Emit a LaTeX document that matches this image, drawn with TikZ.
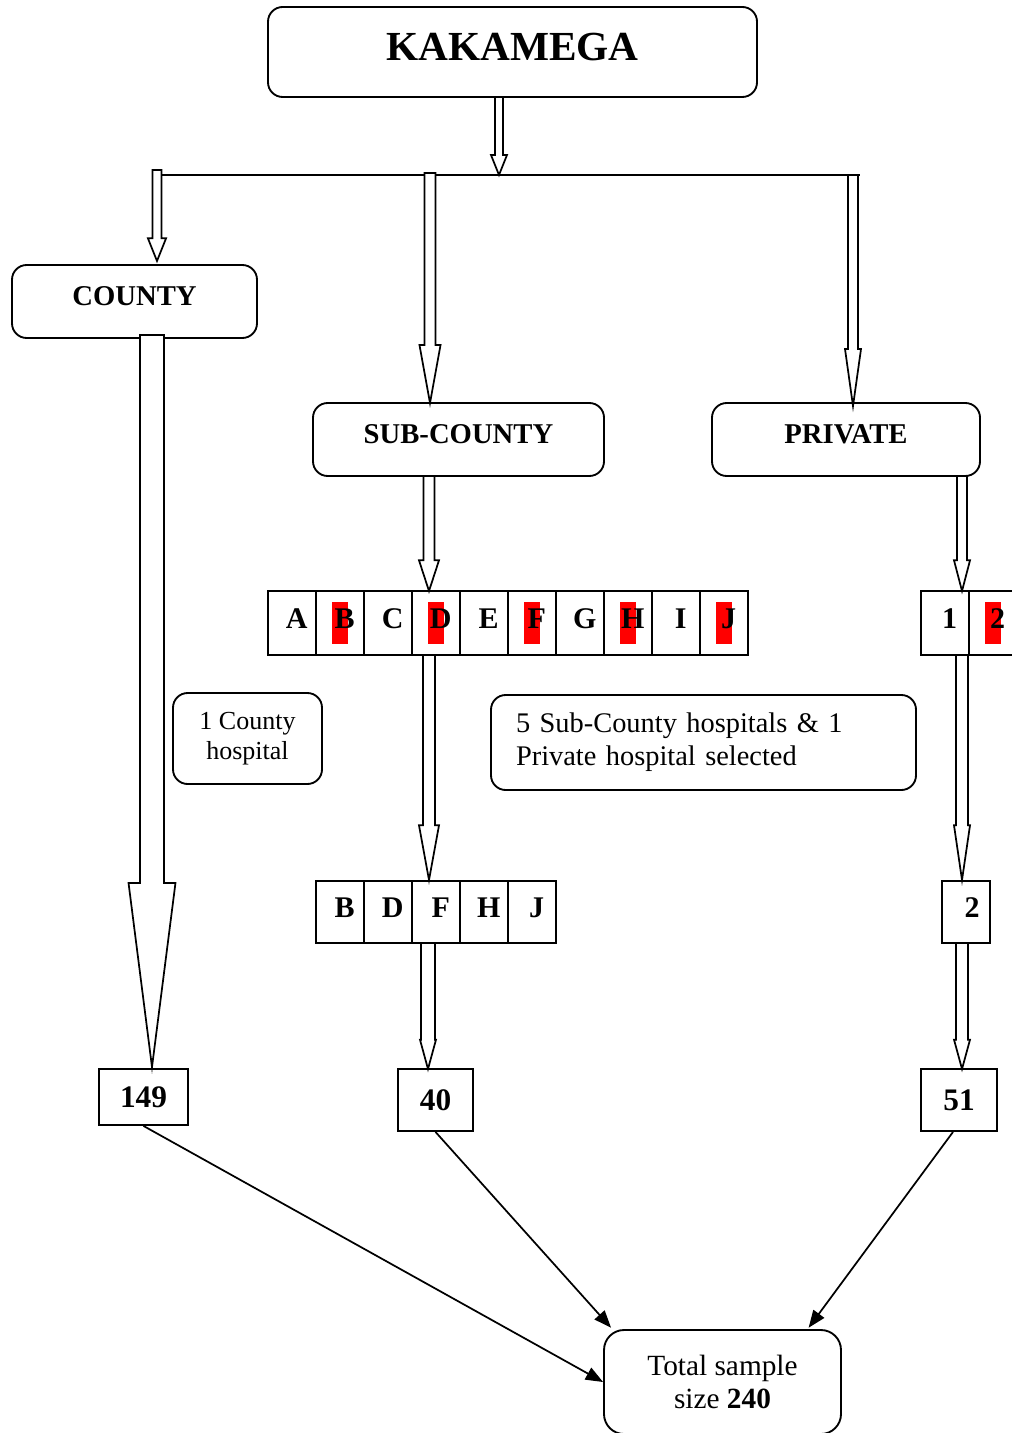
\documentclass[tikz,border=0pt]{standalone}
\usepackage{fontspec}
\setmainfont{Liberation Serif}
\usetikzlibrary{calc,arrows.meta}
\tikzset{
  rbox/.style={draw, line width=1.4pt, rounded corners=11pt, inner sep=2pt, align=center},
  sbox/.style={draw, line width=1.4pt, inner sep=0pt, align=center},
  cell/.style={sbox, minimum width=36pt, minimum height=48pt, text depth=6pt,
    font=\fontsize{22.5}{26}\selectfont\bfseries, execute at begin node={\kern7pt}},
  scell/.style={sbox, minimum width=36pt, minimum height=46.5pt, text depth=6pt,
    font=\fontsize{22.5}{26}\selectfont\bfseries, execute at begin node={\kern7pt}},
  sel/.style={path picture={\fill[red] ([xshift=-6pt,yshift=-15.75pt]path picture bounding box.center) rectangle ([xshift=6pt,yshift=15.75pt]path picture bounding box.center);}},
  numbox/.style={sbox, font=\fontsize{23.5}{27}\selectfont\bfseries},
  barrow/.style n args={3}{draw, fill=white, line width=1.3pt, line join=miter,
    to path={let \p1=(\tikztostart), \p2=(\tikztotarget) in
      (\x1-#1,\y1) -- (\x1-#1,\y2+#3) -- (\x1-#2,\y2+#3) -- (\x1,\y2) -- (\x1+#2,\y2+#3) -- (\x1+#1,\y2+#3) -- (\x1+#1,\y1) -- cycle}},
  link/.style={line width=1.3pt, -{Triangle[length=13pt,width=10pt]}},
}
\begin{document}
\begin{tikzpicture}[x=0.75pt,y=-0.75pt]
\useasboundingbox (0,0) rectangle (1012,1433);

% main boxes
\node[rbox, minimum width=366.75pt, minimum height=67.5pt, text depth=8pt,
  font=\fontsize{31}{36}\selectfont\bfseries] (kak) at (512.5,52) {KAKAMEGA};
\node[rbox, minimum width=183.75pt, minimum height=54.75pt, text depth=8pt,
  font=\fontsize{21.5}{26}\selectfont\bfseries] (county) at (134.5,301.5) {COUNTY};
\node[rbox, minimum width=218.25pt, minimum height=54.75pt, text depth=7.5pt,
  font=\fontsize{21.5}{26}\selectfont\bfseries] (sub) at (458.5,439.5) {SUB-COUNTY};
\node[rbox, minimum width=201pt, minimum height=54.75pt, text depth=7.5pt,
  font=\fontsize{21.5}{26}\selectfont\bfseries] (priv) at (846,439.5) {PRIVATE};

% notes
\node[rbox, minimum width=111.75pt, minimum height=68.25pt,
  font=\fontsize{19.5}{22.5}\selectfont] (note1) at (247.5,738.5) {1 County\\hospital};
\node[rbox, minimum width=318.75pt, minimum height=71.25pt, inner xsep=18.75pt,
  text width=281.25pt, align=left,
  font=\fontsize{21.3}{24.75}\selectfont] (note2) at (703.5,742.5) {5 Sub-County hospitals \& 1\\Private hospital selected};

% sub-county row
\node[cell] (rA) at (292,623) {A};
\node[cell,sel] (rB) at (340,623) {B};
\node[cell] (rC) at (388,623) {C};
\node[cell,sel] (rD) at (436,623) {D};
\node[cell] (rE) at (484,623) {E};
\node[cell,sel] (rF) at (532,623) {F};
\node[cell] (rG) at (580,623) {G};
\node[cell,sel] (rH) at (628,623) {H};
\node[cell] (rI) at (676,623) {I};
\node[cell,sel] (rJ) at (724,623) {J};

% private row
\node[cell] (p1) at (945,623) {1};
\node[cell,sel] (p2) at (993,623) {2};

% selected row
\node[scell] (sB) at (340,912) {B};
\node[scell] (sD) at (388,912) {D};
\node[scell] (sF) at (436,912) {F};
\node[scell] (sH) at (484,912) {H};
\node[scell] (sJ) at (532,912) {J};
\node[scell, execute at begin node={\kern2pt}] (q2) at (966,912) {2};

% totals
\node[numbox, minimum width=66.75pt, minimum height=42pt] (n149) at (143.5,1097) {149};
\node[numbox, minimum width=56.25pt, minimum height=46.5pt] (n40) at (435.5,1100) {40};
\node[numbox, minimum width=57pt, minimum height=46.5pt] (n51) at (959,1100) {51};
\node[rbox, rounded corners=15pt, minimum width=177.75pt, minimum height=78pt,
  font=\fontsize{22}{25}\selectfont] (total) at (722.5,1382) {Total sample\\size \textbf{240}};

% branching line
\coordinate (hL) at (157,175);
\coordinate (hR) at (860,175);
\draw[line width=1.3pt] (hL) -- (hR);

% block arrows
\coordinate (a1s) at (499,97);   \coordinate (a1t) at (499,175);
\coordinate (a2s) at (157,170);  \coordinate (a2t) at (157,261);
\coordinate (a3s) at (430,173);  \coordinate (a3t) at (430,403);
\coordinate (a4s) at (853,175);  \coordinate (a4t) at (853,406);
\coordinate (a5s) at (152,335);  \coordinate (a5t) at (152,1067);
\coordinate (a6s) at (429,476);  \coordinate (a6t) at (429,591);
\coordinate (a7s) at (962,476);  \coordinate (a7t) at (962,591);
\coordinate (a8s) at (429,655);  \coordinate (a8t) at (429,880);
\coordinate (a9s) at (962,655);  \coordinate (a9t) at (962,880);
\coordinate (a10s) at (428,943); \coordinate (a10t) at (428,1069);
\coordinate (a11s) at (962,943); \coordinate (a11t) at (962,1069);

\draw[barrow={3pt}{6pt}{15pt}] (a1s) to (a1t);
\draw[barrow={3.4pt}{6.8pt}{17pt}] (a2s) to (a2t);
\draw[barrow={4.1pt}{7.9pt}{43.5pt}] (a3s) to (a3t);
\draw[barrow={3.75pt}{6pt}{42.75pt}] (a4s) to (a4t);
\draw[barrow={9pt}{17.6pt}{138pt}] (a5s) to (a5t);
\draw[barrow={4.1pt}{7.5pt}{23pt}] (a6s) to (a6t);
\draw[barrow={3.75pt}{6pt}{23pt}] (a7s) to (a7t);
\draw[barrow={4.5pt}{7.5pt}{41pt}] (a8s) to (a8t);
\draw[barrow={4.5pt}{6pt}{41pt}] (a9s) to (a9t);
\draw[barrow={5.25pt}{6pt}{22pt}] (a10s) to (a10t);
\draw[barrow={4.5pt}{6pt}{22pt}] (a11s) to (a11t);

% final connectors
\draw[link] (n149.south) -- (total.west);
\draw[link] (n40.south) -- ([xshift=6pt,yshift=1pt]total.north west);
\draw[link] ([xshift=-4.5pt]n51.south) -- ([xshift=-25pt,yshift=1pt]total.north east);
\end{tikzpicture}
\end{document}
